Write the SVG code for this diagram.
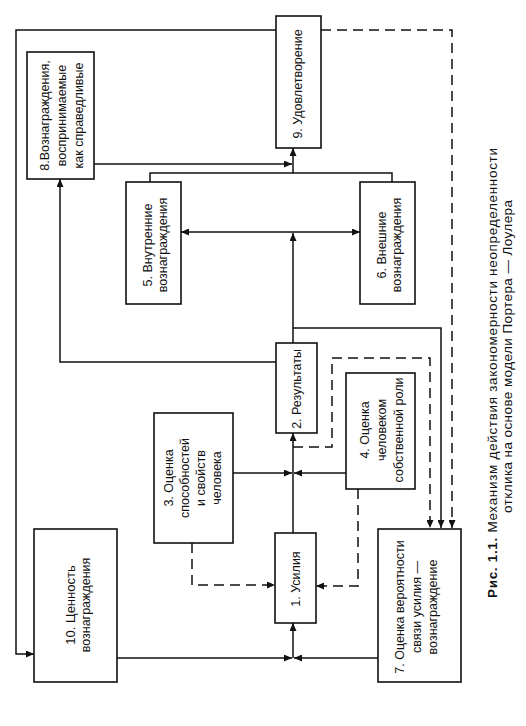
<svg xmlns="http://www.w3.org/2000/svg" width="526" height="726" viewBox="0 0 526 726">
<defs>
<marker id="a" viewBox="0 0 8 7" refX="8" refY="3.5" markerWidth="8" markerHeight="7" orient="auto" markerUnits="userSpaceOnUse"><path d="M0,0 L8,3.5 L0,7 z" fill="#111"/></marker>
<style>
.b{fill:#fff;stroke:#111;stroke-width:1.6}
.t{font-family:"Liberation Sans",Arial,sans-serif;font-size:12.5px;fill:#111;text-anchor:middle}
.c{font-family:"Liberation Sans",Arial,sans-serif;font-size:13.5px;fill:#111}
.l{fill:none;stroke:#111;stroke-width:1.5}
.d{fill:none;stroke:#111;stroke-width:1.5;stroke-dasharray:10 6}
</style>
</defs>
<rect width="526" height="726" fill="#fff"/>
<g id="connectors">
<polyline class="l" points="276,30 16,30 16,654 34,654" marker-end="url(#a)"/>
<polyline class="d" points="321,30 452,30 452,528" marker-end="url(#a)"/>
<line class="l" x1="94" y1="164" x2="292" y2="164" marker-end="url(#a)"/>
<polyline class="l" points="150,182 150,173 392,173 392,182"/>
<line class="l" x1="293" y1="173" x2="293" y2="148" marker-end="url(#a)"/>
<line class="l" x1="293" y1="232" x2="181" y2="232" marker-end="url(#a)"/>
<line class="l" x1="293" y1="232" x2="360" y2="232" marker-end="url(#a)"/>
<line class="l" x1="293" y1="343" x2="293" y2="233" marker-end="url(#a)"/>
<polyline class="l" points="276,362 60,362 60,179" marker-end="url(#a)"/>
<polyline class="l" points="293,328 441,328 441,528" marker-end="url(#a)"/>
<polyline class="d" points="293,447 332,447 332,358 430,358 430,528" marker-end="url(#a)"/>
<line class="l" x1="293" y1="533" x2="293" y2="433" marker-end="url(#a)"/>
<line class="l" x1="233" y1="473" x2="292" y2="473" marker-end="url(#a)"/>
<line class="l" x1="346" y1="473" x2="294" y2="473" marker-end="url(#a)"/>
<polyline class="d" points="192,543 192,585 275,585" marker-end="url(#a)"/>
<polyline class="d" points="358,489 358,586 316,586" marker-end="url(#a)"/>
<line class="l" x1="117" y1="658" x2="292" y2="658" marker-end="url(#a)"/>
<line class="l" x1="378" y1="658" x2="294" y2="658" marker-end="url(#a)"/>
<line class="l" x1="293" y1="658" x2="293" y2="623" marker-end="url(#a)"/>
</g>
<g id="n8"><rect class="b" x="27" y="52" width="67" height="127"/>
<text class="t" transform="translate(49,115.5) rotate(-90)">8.Вознаграждения,</text>
<text class="t" transform="translate(66,115.5) rotate(-90)">воспринимаемые</text>
<text class="t" transform="translate(83,115.5) rotate(-90)">как справедливые</text></g>
<g id="n9"><rect class="b" x="276" y="16" width="45" height="132"/>
<text class="t" transform="translate(302,84) rotate(-90)">9. Удовлетворение</text></g>
<g id="n5"><rect class="b" x="126" y="182" width="55" height="122"/>
<text class="t" transform="translate(152,245) rotate(-90)">5. Внутренние</text>
<text class="t" transform="translate(167,245) rotate(-90)">вознаграждения</text></g>
<g id="n6"><rect class="b" x="360" y="182" width="55" height="122"/>
<text class="t" transform="translate(386,245) rotate(-90)">6. Внешние</text>
<text class="t" transform="translate(401,245) rotate(-90)">вознаграждения</text></g>
<g id="n2"><rect class="b" x="276" y="343" width="41" height="90"/>
<text class="t" transform="translate(301,389) rotate(-90)">2. Результаты</text></g>
<g id="n4"><rect class="b" x="346" y="373" width="69" height="116"/>
<text class="t" transform="translate(369,430) rotate(-90)">4. Оценка</text>
<text class="t" transform="translate(386,430) rotate(-90)">человеком</text>
<text class="t" transform="translate(403,430) rotate(-90)">собственной роли</text></g>
<g id="n3"><rect class="b" x="154" y="413" width="79" height="130"/>
<text class="t" transform="translate(173,478) rotate(-90)">3. Оценка</text>
<text class="t" transform="translate(189,478) rotate(-90)">способностей</text>
<text class="t" transform="translate(205,478) rotate(-90)">и свойств</text>
<text class="t" transform="translate(221,478) rotate(-90)">человека</text></g>
<g id="n1"><rect class="b" x="275" y="533" width="41" height="90"/>
<text class="t" transform="translate(300,579) rotate(-90)">1. Усилия</text></g>
<g id="n10"><rect class="b" x="34" y="529" width="83" height="153"/>
<text class="t" style="font-size:13px" transform="translate(75,605) rotate(-90)">10. Ценность</text>
<text class="t" transform="translate(90,605) rotate(-90)">вознаграждения</text></g>
<g id="n7"><rect class="b" x="378" y="529" width="83" height="153"/>
<text class="t" transform="translate(404,607) rotate(-90)">7. Оценка вероятности</text>
<text class="t" transform="translate(421,607) rotate(-90)">связи усилия —</text>
<text class="t" transform="translate(437,607) rotate(-90)">вознаграждение</text></g>
<g id="caption">
<text class="c" transform="translate(497,598) rotate(-90)" textLength="450"><tspan font-weight="bold">Рис. 1.1.</tspan> Механизм действия закономерности неопределенности</text>
<text class="c" transform="translate(512,513) rotate(-90)" textLength="313">отклика на основе модели Портера — Лоулера</text>
</g>
</svg>
